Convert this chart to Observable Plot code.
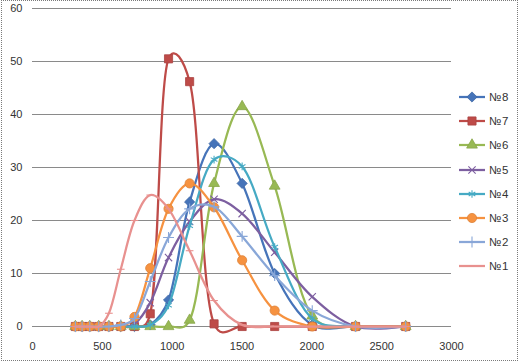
<!DOCTYPE html>
<html>
<head>
<meta charset="utf-8">
<script src="https://cdn.jsdelivr.net/npm/d3@7"></script>
<script src="https://cdn.jsdelivr.net/npm/@observablehq/plot@0.6"></script>
<style>
  html, body { margin: 0; padding: 0; background: #fff; }
  #wrap { position: relative; width: 522px; height: 363px; overflow: hidden; font-family: "Liberation Sans", Arial, sans-serif; }
  #frame { position: absolute; left: 1px; top: 0px; width: 517px; height: 361px; border: 1px dotted #7a7a7a; box-sizing: border-box; pointer-events: none; }
  #legend { position: absolute; left: 457px; top: 0; }
  .item { position: absolute; left: 0; height: 14px; display: flex; align-items: center; white-space: nowrap; font-size: 11.5px; letter-spacing: 0.6px; color: #333; }
  .item svg { display: block; margin-right: 2px; }
</style>
</head>
<body>
<div id="wrap">
  <div id="chart"></div>
  <div id="legend"></div>
  <div id="frame"></div>
</div>
<script>
// x values (shared by all series)
const xs = [307, 355, 410, 474, 547, 632, 730, 843, 974, 1125, 1300, 1501, 1734, 2003, 2313, 2672];

// series values
const s8 = [0, 0, 0, 0, 0, 0, 0, 0.3, 5, 23.5, 34.5, 27, 10, 0.3, 0, 0];
const s7 = [0, 0, 0, 0, 0, 0, 0, 2.4, 50.5, 46.2, 0.5, 0, 0, 0, 0, 0];
const s6 = [0, 0, 0, 0, 0, 0, 0, 0, 0, 1.2, 27, 41.5, 26.5, 2, 0, 0];
const s5 = [0, 0, 0, 0, 0, 0, 0.5, 4.5, 13, 19.8, 24, 21.3, 14, 5.6, 0, 0];
const s4 = [0, 0, 0, 0, 0, 0, 0, 0.3, 4, 19, 31.5, 30.2, 15, 1.5, 0, 0];
const s3 = [0, 0, 0, 0, 0, 0, 1.8, 11, 22.2, 27, 22.5, 12.5, 3, 0, 0, 0];
const s2 = [0, 0, 0, 0, 0, 0.3, 1.5, 8.5, 16.8, 22.2, 22.6, 17, 9.6, 3, 0, 0];
const s1 = [0, 0, 0, 0, 2.5, 10.8, 20, 24.8, 22.2, 14.3, 4.9, 0.3, 0, 0, 0, 0];

const names = ["№8", "№7", "№6", "№5", "№4", "№3", "№2", "№1"];
const values = [s8, s7, s6, s5, s4, s3, s2, s1];
const colors = ["#4674b9", "#be4b48", "#98b954", "#7d5fa0", "#46aac4", "#f69240", "#89a7d8", "#e8918f"];

const xTicks = [0, 500, 1000, 1500, 2000, 2500, 3000];
const yTicks = [0, 10, 20, 30, 40, 50, 60];

// marker styles
const dash = { draw(ctx, size) { const w = Math.sqrt(size) * 0.6; ctx.moveTo(-w, 0); ctx.lineTo(w, 0); } };
const markers = [
  { symbol: "diamond2", r: 4.6, filled: true },
  { symbol: "square", r: 4.6, filled: true },
  { symbol: "triangle", r: 4.0, filled: true },
  { symbol: "times", r: 3.4, filled: false },
  { symbol: "asterisk", r: 3.6, filled: false },
  { symbol: "circle", r: 4.6, filled: true },
  { symbol: "plus", r: 3.6, filled: false },
  { symbol: dash, r: 3.6, filled: false }
];

const series = names.map((n, i) => values[i].map((v, j) => ({ name: n, x: xs[j], y: v })));

const marks = [
  Plot.gridY(yTicks, { stroke: "#8a8a8a", strokeOpacity: 1, strokeWidth: 1 }),
  Plot.axisY(yTicks, { tickSize: 0, tickPadding: 10, fontSize: 11, fill: "#333", style: "letter-spacing:0.5px" }),
  Plot.axisX(xTicks, { tickSize: 0, tickPadding: 16, fontSize: 11, fill: "#333", tickFormat: d => String(d), style: "letter-spacing:0.5px" })
];
series.forEach((rows, i) => {
  const c = colors[i];
  const m = markers[i];
  marks.push(Plot.line(rows, { x: "x", y: "y", stroke: c, strokeWidth: 2.25, curve: "catmull-rom", tension: 0.25 }));
  marks.push(Plot.dot(rows, {
    x: "x", y: "y", symbol: m.symbol, r: m.r,
    fill: m.filled ? c : "none",
    stroke: m.filled ? d3.color(c).darker(0.3).formatHex() : c,
    strokeWidth: m.filled ? 0.8 : 1.1
  }));
});

const chart = Plot.plot({
  width: 522,
  height: 363,
  marginLeft: 32,
  marginRight: 71,
  marginTop: 8,
  marginBottom: 37,
  style: { background: "#fff", fontFamily: "'Liberation Sans', Arial, sans-serif", overflow: "visible" },
  x: { domain: [0, 3000], label: null },
  y: { domain: [0, 60], label: null },
  marks
});
document.getElementById("chart").appendChild(chart);

// legend
const legend = document.getElementById("legend");
const tops = [97, 121.2, 145.4, 169.6, 193.8, 218, 242.2, 266.4];
const symMap = { diamond2: d3.symbolDiamond2, square: d3.symbolSquare, triangle: d3.symbolTriangle, times: d3.symbolTimes, asterisk: d3.symbolAsterisk, circle: d3.symbolCircle, plus: d3.symbolPlus };
names.forEach((n, i) => {
  const item = document.createElement("div");
  item.className = "item";
  item.style.top = (tops[i] - 7) + "px";
  const svg = d3.create("svg").attr("width", 30).attr("height", 14);
  svg.append("line").attr("x1", 2).attr("x2", 28).attr("y1", 7).attr("y2", 7)
    .attr("stroke", colors[i]).attr("stroke-width", 2.25);
  const m = markers[i];
  const type = typeof m.symbol === "string" ? symMap[m.symbol] : m.symbol;
  svg.append("path").attr("transform", "translate(15,7)")
    .attr("d", d3.symbol(type, m.r * m.r * Math.PI)())
    .attr("fill", m.filled ? colors[i] : "none")
    .attr("stroke", m.filled ? d3.color(colors[i]).darker(0.3).formatHex() : colors[i])
    .attr("stroke-width", m.filled ? 0.8 : 1.1);
  item.appendChild(svg.node());
  const t = document.createElement("span");
  t.textContent = n;
  item.appendChild(t);
  legend.appendChild(item);
});
</script>
</body>
</html>
